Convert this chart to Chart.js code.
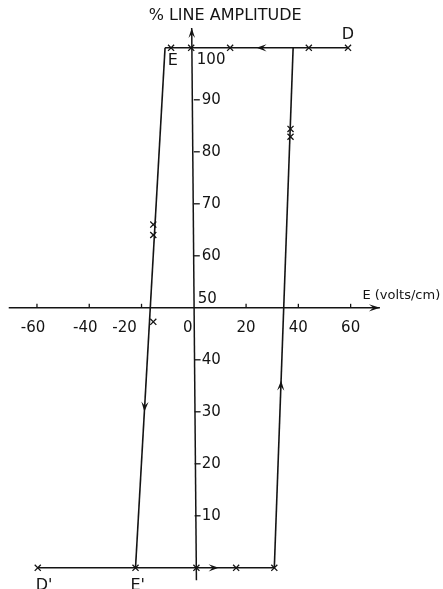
<!DOCTYPE html>
<html><head><meta charset="utf-8">
<script src="https://cdn.jsdelivr.net/npm/chart.js@4/dist/chart.umd.min.js"></script>
<style>html,body{margin:0;padding:0;background:#fff;}#wrap{width:443px;height:589px;position:relative;}</style>
</head><body><div id="wrap"><canvas id="c" width="443" height="589"></canvas></div>
<script>
// ---- data (E in volts/cm, amplitude in %) ----
const xTicks = [-60, -40, -20, 0, 20, 40, 60];
const xTickLabels = ['-60', '-40', '-20', '0', '20', '40', '60'];
const yTicks = [10, 20, 30, 40, 50, 60, 70, 80, 90, 100];
const yTickLabels = ['10', '20', '30', '40', '50', '60', '70', '80', '90', '100'];

const upperE = [-11, 59];      const upperAmp = [100, 100];
const lowerE = [-59.7, 30.8];  const lowerAmp = [0, 0];
const leftE = [-11, -22.3];    const leftAmp = [100, 0];
const rightE = [30.8, 38];     const rightAmp = [0, 100];

const measE   = [-8.7, -1, 13.9, 44, 59, 37, 37, -15.5, -15.5, -15.5, -59.7, -22.3, 1, 16.2, 30.8];
const measAmp = [100, 100, 100, 100, 100, 84.4, 82.9, 66, 64, 47.3, 0, 0, 0, 0, 0];

const pointNames = ['D', 'E', "D'", "E'"];
const pointNameE = [59, -8, -59.7, -22.3];
const pointNameAmp = [100, 100, 0, 0];

const xTitle = 'E (volts/cm)';
const yTitle = '% LINE AMPLITUDE';

const INK = '#141414';
const pts = (xs, ys) => xs.map((x, i) => ({x: x, y: ys[i]}));
const lineDs = (xs, ys) => ({data: pts(xs, ys), showLine: true, borderColor: INK, borderWidth: 1.6, pointRadius: 0, fill: false});

function lerpBranch(es, as, a) { const t = (a - as[0]) / (as[1] - as[0]); return es[0] + t * (es[1] - es[0]); }

const axesPlugin = {
  id: 'axesPlugin',
  afterDatasetsDraw(chart) {
    const ctx = chart.ctx, xs = chart.scales.x, ys = chart.scales.y;
    const X = v => xs.getPixelForValue(v), Y = v => ys.getPixelForValue(v);
    ctx.save();
    ctx.strokeStyle = INK; ctx.fillStyle = INK; ctx.lineWidth = 1.5;
    // x axis
    ctx.beginPath(); ctx.moveTo(X(-70.8), Y(50)); ctx.lineTo(X(71.2), Y(50)); ctx.stroke();
    // y axis (slightly slanted as drawn)
    ctx.beginPath(); ctx.moveTo(X(-0.8), Y(103.8)); ctx.lineTo(X(1.0), Y(-2.4)); ctx.stroke();
    // x ticks
    ctx.lineWidth = 1.3;
    xTicks.forEach(v => { if (v === 0) return; ctx.beginPath(); ctx.moveTo(X(v), Y(50)); ctx.lineTo(X(v), Y(50) - 4); ctx.stroke(); });
    // y ticks
    yTicks.forEach(v => { if (v === 50 || v === 100) return; const px = X(0) + (v < 50 ? 0.8 : 0); ctx.beginPath(); ctx.moveTo(px, Y(v)); ctx.lineTo(px + 6, Y(v)); ctx.stroke(); });
    // tick labels
    ctx.font = '15px "DejaVu Sans"'; ctx.textBaseline = 'middle';
    const xShift = {'-20': -13, '0': -6};
    xTicks.forEach((v, i) => {
      const lab = xTickLabels[i];
      ctx.textAlign = 'center';
      const dx = (xShift[lab] || 0) + (v < 0 ? -4 : 0);
      ctx.fillText(lab, X(v) + dx, Y(50) + 20);
    });
    ctx.textAlign = 'left';
    yTicks.forEach((v, i) => {
      let px = X(0) + 8, py = Y(v);
      if (v === 100) { px = X(0) + 3; py = Y(v) + 12; }
      if (v === 50) { px = X(0) + 4; py = Y(v) - 9; }
      ctx.fillText(yTickLabels[i], px, py);
    });
    // titles
    ctx.font = '16px "DejaVu Sans"'; ctx.textAlign = 'center';
    ctx.fillText(yTitle, X(12), 16);
    ctx.font = '13px "DejaVu Sans"'; ctx.textAlign = 'left';
    ctx.fillText(xTitle, X(64.5), Y(50) - 12);
    // point names
    ctx.font = '16px "DejaVu Sans"'; ctx.textAlign = 'center';
    ctx.fillText(pointNames[0], X(pointNameE[0]), Y(pointNameAmp[0]) - 13);
    ctx.fillText(pointNames[1], X(pointNameE[1]), Y(pointNameAmp[1]) + 13);
    ctx.textBaseline = 'alphabetic'; ctx.textAlign = 'left';
    ctx.fillText(pointNames[2], X(pointNameE[2]) - 2, 590);
    ctx.fillText(pointNames[3], X(pointNameE[3]) - 5, 590);
    // arrowheads
    const arrow = (tx, ty, fx, fy, len, hw) => {
      const x1 = X(tx), y1 = Y(ty), x0 = X(fx), y0 = Y(fy);
      const d = Math.hypot(x1 - x0, y1 - y0), ux = (x1 - x0) / d, uy = (y1 - y0) / d;
      const bx = x1 - ux * len, by = y1 - uy * len;
      ctx.beginPath(); ctx.moveTo(x1, y1);
      ctx.lineTo(bx - uy * hw, by + ux * hw);
      ctx.lineTo(x1 - ux * len * 0.6, y1 - uy * len * 0.6);
      ctx.lineTo(bx + uy * hw, by - ux * hw);
      ctx.closePath(); ctx.fill();
    };
    arrow(24, 100, 30, 100, 10, 3.6);
    arrow(9.5, 0, 4, 0, 10, 3.6);
    arrow(lerpBranch(leftE, leftAmp, 30), 30, lerpBranch(leftE, leftAmp, 36), 36, 10, 3.6);
    arrow(lerpBranch(rightE, rightAmp, 36), 36, lerpBranch(rightE, rightAmp, 30), 30, 10, 3.6);
    arrow(71.2, 50, 65, 50, 11, 3.6);
    arrow(-0.8, 103.8, -0.7, 98, 10, 3.3);
    ctx.restore();
  }
};

new Chart(document.getElementById('c'), {
  type: 'scatter',
  data: {
    datasets: [
      lineDs(upperE, upperAmp),
      lineDs(lowerE, lowerAmp),
      lineDs(leftE, leftAmp),
      lineDs(rightE, rightAmp),
      {data: pts(measE, measAmp), showLine: false, pointStyle: 'crossRot', pointRadius: 4.3, pointBorderColor: INK, pointBorderWidth: 1.3, borderColor: INK}
    ]
  },
  options: {
    responsive: false, animation: false,
    layout: {padding: {left: 5, right: 61, top: 27, bottom: 5}},
    plugins: {legend: {display: false}, tooltip: {enabled: false}},
    scales: {
      x: {type: 'linear', min: -72, max: 72, display: false},
      y: {type: 'linear', min: -3, max: 104, display: false}
    }
  },
  plugins: [axesPlugin]
});
</script></body></html>
